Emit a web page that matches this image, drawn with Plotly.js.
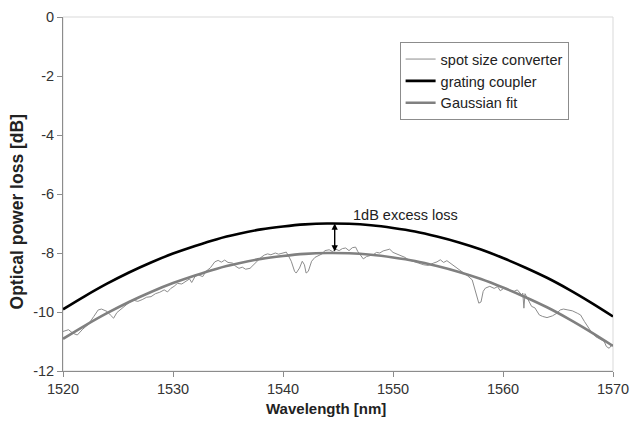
<!DOCTYPE html>
<html>
<head>
<meta charset="utf-8">
<script src="https://cdn.plot.ly/plotly-3.0.1.min.js"></script>
<style>html,body{margin:0;padding:0;background:#fff;}#chart{width:631px;height:426px;}</style>
</head>
<body>
<div id="chart"></div>
<script>
// ---- data ----
const xTicks = [1520, 1530, 1540, 1550, 1560, 1570];
const yTicks = [0, -2, -4, -6, -8, -10, -12];

// smooth curves (nm, dB)
const smoothWl = [1520,1522,1524,1526,1528,1530,1532,1534,1536,1538,1540,1542,1544,1546,1548,1550,1552,1554,1556,1558,1560,1562,1564,1566,1568,1570];
const gratingCoupler = [-9.91,-9.46,-9.04,-8.66,-8.32,-8.02,-7.76,-7.53,-7.35,-7.20,-7.10,-7.03,-7.00,-7.01,-7.06,-7.15,-7.27,-7.44,-7.64,-7.88,-8.17,-8.49,-8.84,-9.24,-9.68,-10.15];
const gaussianFit = [-10.91,-10.46,-10.04,-9.66,-9.32,-9.02,-8.76,-8.53,-8.35,-8.20,-8.10,-8.03,-8.00,-8.01,-8.06,-8.15,-8.27,-8.44,-8.64,-8.88,-9.17,-9.49,-9.84,-10.24,-10.68,-11.15];

// measured spot size converter (nm, dB)
const sscWl = [1520.0,1520.5,1520.9,1521.3,1521.8,1522.3,1522.8,1523.2,1523.5,1524.0,1524.3,1524.6,1524.9,1525.3,1525.7,1526.0,1526.4,1526.8,1527.2,1527.6,1528.0,1528.4,1528.8,1529.2,1529.5,1529.8,1530.1,1530.4,1530.8,1531.2,1531.5,1531.7,1532.0,1532.3,1532.7,1533.0,1533.4,1533.8,1534.1,1534.4,1534.7,1535.0,1535.4,1535.7,1536.0,1536.3,1536.6,1537.0,1537.4,1537.7,1538.0,1538.3,1538.6,1538.9,1539.3,1539.6,1540.0,1540.3,1540.5,1540.75,1541.05,1541.2,1541.5,1541.75,1541.95,1542.1,1542.3,1542.6,1542.9,1543.3,1543.6,1543.8,1544.2,1544.5,1544.8,1545.1,1545.4,1545.7,1546.0,1546.3,1546.6,1546.8,1547.0,1547.3,1547.6,1547.9,1548.2,1548.5,1548.8,1549.1,1549.4,1549.7,1550.0,1550.3,1550.8,1551.1,1551.4,1551.8,1552.3,1552.8,1553.2,1553.7,1554.0,1554.3,1554.6,1554.9,1555.2,1555.6,1556.0,1556.4,1556.8,1557.2,1557.5,1557.8,1558.0,1558.2,1558.4,1558.8,1559.2,1559.5,1559.75,1560.1,1560.5,1561.0,1561.3,1561.7,1561.8,1561.9,1562.0,1562.1,1562.3,1562.6,1562.9,1563.3,1563.6,1564.0,1564.5,1564.9,1565.2,1565.5,1565.9,1566.3,1566.75,1567.05,1567.4,1567.7,1568.0,1568.4,1568.9,1569.2,1569.4,1569.65,1569.95];
const sscDb = [-10.66,-10.60,-10.72,-10.78,-10.58,-10.42,-10.15,-9.93,-9.90,-9.98,-10.10,-10.21,-10.02,-9.90,-9.80,-9.68,-9.60,-9.64,-9.58,-9.50,-9.48,-9.38,-9.33,-9.25,-9.32,-9.20,-9.13,-9.03,-9.05,-8.95,-8.88,-9.00,-8.80,-8.74,-8.80,-8.62,-8.50,-8.30,-8.25,-8.31,-8.24,-8.32,-8.34,-8.45,-8.52,-8.48,-8.55,-8.52,-8.37,-8.26,-8.15,-8.07,-8.03,-8.06,-8.00,-8.04,-8.00,-7.97,-8.10,-8.28,-8.62,-8.68,-8.51,-8.28,-8.40,-8.68,-8.62,-8.28,-8.15,-8.08,-8.02,-7.92,-7.89,-7.95,-7.87,-7.92,-7.85,-7.83,-7.92,-7.82,-7.80,-7.95,-8.06,-8.20,-8.12,-8.10,-8.06,-7.98,-8.00,-7.93,-7.90,-7.87,-7.98,-8.02,-8.09,-8.15,-8.23,-8.27,-8.34,-8.40,-8.42,-8.34,-8.30,-8.23,-8.32,-8.26,-8.34,-8.44,-8.54,-8.66,-8.78,-8.91,-9.30,-9.70,-9.66,-9.30,-9.19,-9.13,-9.20,-9.14,-9.28,-9.19,-9.25,-9.30,-9.25,-9.42,-9.36,-9.87,-9.38,-9.45,-9.64,-9.81,-9.86,-10.10,-10.15,-10.19,-10.13,-10.04,-9.93,-9.90,-9.93,-9.96,-10.04,-10.10,-10.32,-10.49,-10.66,-10.83,-10.94,-11.00,-11.17,-11.23,-11.09];

const seriesNames = ['spot size converter', 'grating coupler', 'Gaussian fit'];
const annotationText = '1dB excess loss';
const xTitle = 'Wavelength [nm]';
const yTitle = 'Optical power loss [dB]';

// ---- chart ----
const FONT = 'Liberation Sans, Arial, Helvetica, sans-serif';

// arrow between the peaks, derived from the data
const gcPeakIdx = gratingCoupler.indexOf(Math.max(...gratingCoupler));
const fitPeak = Math.max(...gaussianFit);
const arrowWl = 1544.7;

const traces = [
  {x: sscWl, y: sscDb, name: seriesNames[0], type: 'scatter', mode: 'lines',
   line: {color: '#8c8c8c', width: 1}},
  {x: smoothWl, y: gratingCoupler, name: seriesNames[1], type: 'scatter', mode: 'lines',
   line: {color: '#000000', width: 2.6, shape: 'spline'}},
  {x: smoothWl, y: gaussianFit, name: seriesNames[2], type: 'scatter', mode: 'lines',
   line: {color: '#808080', width: 2.6, shape: 'spline'}}
];

const axisCommon = {
  showgrid: false, zeroline: false, showline: true, linecolor: '#8c8c8c', linewidth: 1,
  ticks: 'outside', ticklen: 5, tickcolor: '#8c8c8c', tickwidth: 1,
  tickfont: {family: FONT, size: 14.5, color: '#333333'}
};

const layout = {
  width: 631, height: 426,
  margin: {l: 62.6, r: 18.3, t: 17, b: 55},
  paper_bgcolor: '#ffffff', plot_bgcolor: '#ffffff',
  font: {family: FONT, color: '#222222'},
  showlegend: true,
  legend: {x: 0.612, y: 0.929, xanchor: 'left', yanchor: 'top',
           bgcolor: '#ffffff', bordercolor: '#8c8c8c', borderwidth: 1,
           font: {family: FONT, size: 14.5, color: '#222222'}},
  xaxis: Object.assign({}, axisCommon, {range: [1520, 1570], tickvals: xTicks, ticktext: xTicks.map(String)}),
  yaxis: Object.assign({}, axisCommon, {range: [-12, 0], tickvals: yTicks, ticktext: yTicks.map(String)}),
  shapes: [
    {type: 'rect', xref: 'paper', yref: 'paper', x0: 0, x1: 1, y0: 0, y1: 1,
     line: {color: '#d9d9d9', width: 1}, layer: 'below'}
  ],
  annotations: [
    {x: arrowWl, y: gratingCoupler[gcPeakIdx], ax: arrowWl, ay: fitPeak, xref: 'x', yref: 'y', axref: 'x', ayref: 'y',
     text: '', showarrow: true, arrowhead: 2, arrowside: 'end+start', arrowsize: 0.9, arrowwidth: 1.4, arrowcolor: '#000000'},
    {x: 1546.2, y: -6.72, xref: 'x', yref: 'y', xanchor: 'left', yanchor: 'middle', showarrow: false,
     text: annotationText, font: {family: FONT, size: 14.5, color: '#222222'}},
    {x: 0.479, y: -0.105, xref: 'paper', yref: 'paper', xanchor: 'center', yanchor: 'middle', showarrow: false,
     text: '<b>' + xTitle + '</b>', font: {family: FONT, size: 15, color: '#222222'}},
    {x: -0.0835, y: 0.448, xref: 'paper', yref: 'paper', xanchor: 'center', yanchor: 'middle', showarrow: false,
     textangle: -90, text: '<b>' + yTitle + '</b>', font: {family: FONT, size: 17.5, color: '#222222'}}
  ]
};

Plotly.newPlot('chart', traces, layout, {staticPlot: true, displayModeBar: false});
</script>
</body>
</html>
